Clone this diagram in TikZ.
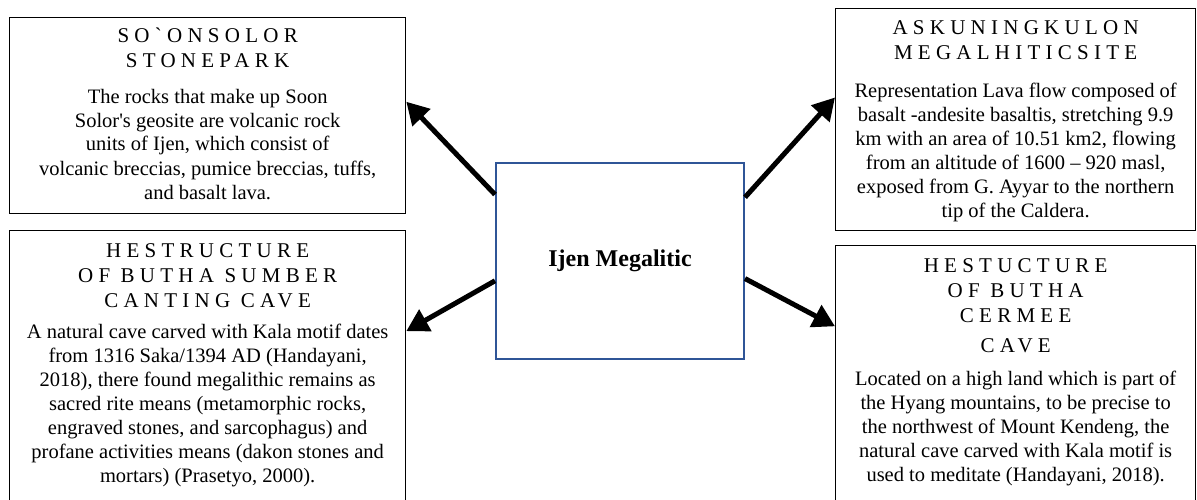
\documentclass[tikz,border=0pt]{standalone}
\usepackage{fontspec}
\setmainfont{Liberation Serif}
\newfontfamily\spacedfont[LetterSpace=25]{Liberation Serif}
\usetikzlibrary{positioning, arrows.meta}
\definecolor{hubblue}{RGB}{47,85,151}

\begin{document}
\begin{tikzpicture}[
    x=1pt, y=-1pt,
    card/.style={
      draw,
      line width=1.3pt,
      anchor=north west,
      inner sep=0pt
    },
    heading/.style={
      anchor=base,
      align=center,
      inner sep=0pt,
      font={\spacedfont\fontsize{21}{25}\selectfont}
    },
    body/.style={
      anchor=base,
      align=center,
      inner sep=0pt,
      font={\fontsize{20.5}{24}\selectfont}
    },
    hub/.style={
      draw=hubblue,
      line width=2pt,
      minimum width=248pt,
      minimum height=196pt,
      font={\bfseries\fontsize{24}{28}\selectfont}
    },
    arrow/.style={line width=5pt, -{Triangle[length=22pt, width=24pt]}},
]

\useasboundingbox (0,0) rectangle (1197,500);
\clip (0,0) rectangle (1197,500);

% Soon Solor (text nodes sit on their last line)
\node[card, minimum width=396pt, minimum height=196pt] (soon) at (9,17) {};
\node[heading] (soonhead) at ([yshift=-51pt]soon.north) {SOˋONSOLOR\\STONEPARK};
\node[body] (soonbody) at ([yshift=-182pt]soon.north) {The rocks that make up Soon\\Solor\textquotesingle s geosite are volcanic rock\\units of Ijen, which consist of\\volcanic breccias, pumice breccias, tuffs,\\and basalt lava.};

% Kuning Kulon
\node[card, minimum width=360pt, minimum height=222pt] (kulon) at (835,8) {};
\node[heading] (kulonhead) at ([yshift=-52pt]kulon.north) {ASKUNINGKULON\\MEGALHITICSITE};
\node[body] (kulonbody) at ([yshift=-209pt]kulon.north) {Representation Lava flow composed of\\basalt -andesite basaltis, stretching 9.9\\km with an area of 10.51 km2, flowing\\from an altitude of 1600 -- 920 masl,\\exposed from G. Ayyar to the northern\\tip of the Caldera.};

% Sumber Canting
\node[card, minimum width=396pt, minimum height=300pt] (sumber) at (9,230) {};
\node[heading] (sumberhead) at ([yshift=-77pt]sumber.north) {HESTRUCTURE\\OF BUTHA SUMBER\\CANTING CAVE};
\node[body] (sumberbody) at ([yshift=-252pt]sumber.north) {A natural cave carved with Kala motif dates\\from 1316 Saka/1394 AD (Handayani,\\2018), there found megalithic remains as\\sacred rite means (metamorphic rocks,\\engraved stones, and sarcophagus) and\\profane activities means (dakon stones and\\mortars) (Prasetyo, 2000).};

% Cermee
\node[card, minimum width=360pt, minimum height=300pt] (cermee) at (835,245) {};
\node[heading] (cermeehead) at ([yshift=-107pt]cermee.north) {HESTUCTURE\\OF BUTHA\\CERMEE\\[5pt]CAVE};
\node[body] (cermeebody) at ([yshift=-236pt]cermee.north) {Located on a high land which is part of\\the Hyang mountains, to be precise to\\the northwest of Mount Kendeng, the\\natural cave carved with Kala motif is\\used to meditate (Handayani, 2018).};

% Centre
\node[hub] (ijen) at (620,261) {Ijen Megalitic};

% Arrows
\draw[arrow] (ijen.152.5) -- (soon.4.9);
\draw[arrow] (ijen.27.5) -- (kulon.173.3);
\draw[arrow] (ijen.-171.2) -- (sumber.14.6);
\draw[arrow] (ijen.-8.8) -- (cermee.159.5);

\end{tikzpicture}
\end{document}
